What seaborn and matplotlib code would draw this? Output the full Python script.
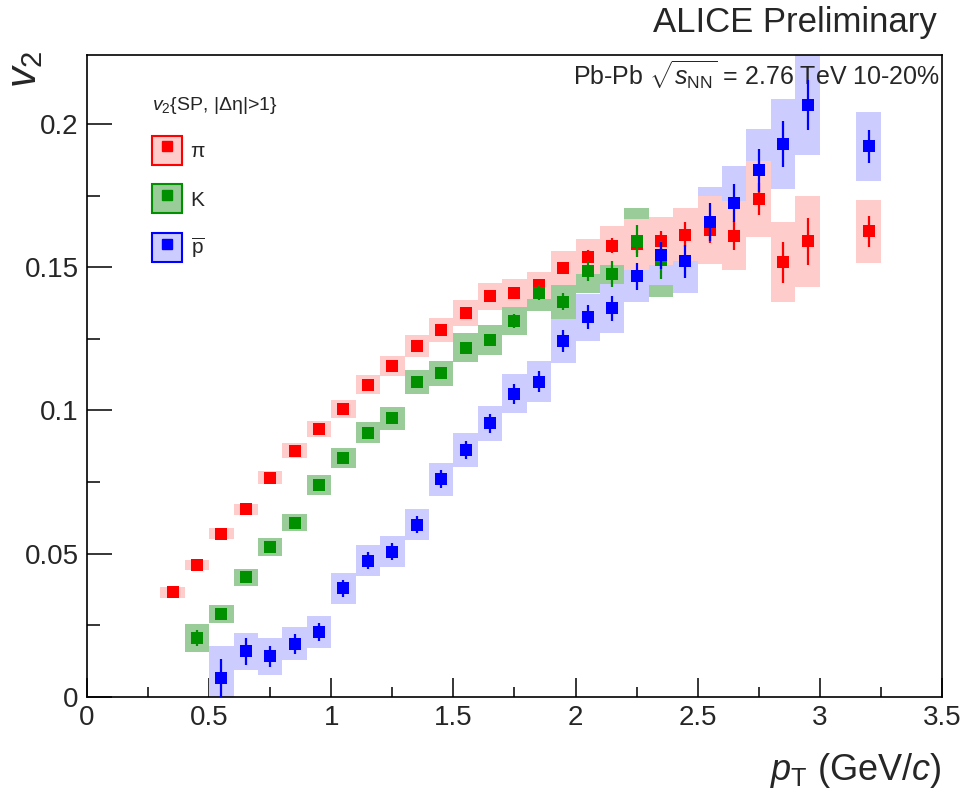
import numpy as np
import pandas as pd
import matplotlib
matplotlib.use('Agg')
import matplotlib.pyplot as plt
import seaborn as sns
from matplotlib.lines import Line2D
from matplotlib.patches import Patch
from matplotlib.legend_handler import HandlerTuple
from matplotlib.ticker import MultipleLocator, FuncFormatter

# ---- data ----
pt_pi = [0.35, 0.45, 0.55, 0.65, 0.75, 0.85, 0.95, 1.05, 1.15, 1.25, 1.35, 1.45, 1.55, 1.65,
         1.75, 1.85, 1.95, 2.05, 2.15, 2.25, 2.35, 2.45, 2.55, 2.65, 2.75, 2.85, 2.95, 3.2]
v2_pi = [0.0365, 0.046, 0.057, 0.0655, 0.0765, 0.086, 0.0935, 0.1005, 0.109, 0.1155, 0.1225, 0.128, 0.134, 0.1398,
         0.141, 0.1437, 0.1497, 0.1537, 0.1575, 0.158, 0.1592, 0.1613, 0.163, 0.161, 0.1738, 0.1517, 0.159, 0.1625]
stat_pi = [0.0008, 0.0008, 0.0008, 0.0009, 0.001, 0.001, 0.0011, 0.0012, 0.0012, 0.0013, 0.0014, 0.0015, 0.0016, 0.0017,
           0.0018, 0.002, 0.0021, 0.0023, 0.0026, 0.003, 0.0034, 0.0044, 0.0045, 0.005, 0.0057, 0.0072, 0.0082, 0.0055]
syst_pi = [0.0019, 0.0017, 0.0019, 0.002, 0.0023, 0.0026, 0.0028, 0.003, 0.0033, 0.0035, 0.0038, 0.0042, 0.0045, 0.0047,
           0.0049, 0.0048, 0.0058, 0.0062, 0.0068, 0.009, 0.0085, 0.0093, 0.0117, 0.012, 0.0133, 0.014, 0.0158, 0.011]

pt_k = [0.45, 0.55, 0.65, 0.75, 0.85, 0.95, 1.05, 1.15, 1.25, 1.35,
        1.45, 1.55, 1.65, 1.75, 1.85, 1.95, 2.05, 2.15, 2.25, 2.35]
v2_k = [0.0205, 0.029, 0.0418, 0.0523, 0.0608, 0.0739, 0.0833, 0.0922, 0.0973, 0.1098,
        0.1129, 0.1219, 0.1245, 0.1312, 0.1411, 0.1379, 0.1487, 0.1476, 0.1592, 0.1525]
stat_k = [0.0028, 0.0012, 0.001, 0.001, 0.001, 0.0011, 0.0012, 0.0013, 0.0014, 0.0015,
          0.0017, 0.0018, 0.002, 0.0024, 0.0027, 0.003, 0.0035, 0.0044, 0.0055, 0.0065]
syst_k = [0.005, 0.0032, 0.003, 0.003, 0.0029, 0.0034, 0.0035, 0.0036, 0.004, 0.0042,
          0.0045, 0.005, 0.0053, 0.005, 0.0064, 0.006, 0.0078, 0.008, 0.0114, 0.013]

pt_p = [0.55, 0.65, 0.75, 0.85, 0.95, 1.05, 1.15, 1.25, 1.35, 1.45, 1.55, 1.65, 1.75,
        1.85, 1.95, 2.05, 2.15, 2.25, 2.35, 2.45, 2.55, 2.65, 2.75, 2.85, 2.95, 3.2]
v2_p = [0.0065, 0.0159, 0.0141, 0.0186, 0.0227, 0.0379, 0.0476, 0.0507, 0.0601, 0.076, 0.0861, 0.0955, 0.1058,
        0.11, 0.1243, 0.1325, 0.1356, 0.1468, 0.1542, 0.152, 0.1657, 0.1724, 0.1838, 0.1931, 0.2066, 0.1922]
stat_p = [0.0067, 0.0047, 0.0038, 0.0035, 0.0032, 0.003, 0.003, 0.003, 0.003, 0.0031, 0.0032, 0.0033, 0.0035,
          0.0037, 0.0039, 0.0042, 0.0044, 0.0048, 0.0047, 0.0057, 0.0067, 0.0067, 0.0075, 0.008, 0.0088, 0.0057]
syst_p = [0.0114, 0.0064, 0.0066, 0.0059, 0.0057, 0.0054, 0.0053, 0.0053, 0.0054, 0.0058, 0.006, 0.006, 0.0068,
          0.0072, 0.0077, 0.0082, 0.0085, 0.009, 0.0105, 0.011, 0.0123, 0.013, 0.0146, 0.0157, 0.0175, 0.012]

labels = ['π', 'K', r'$\overline{\rm p}$']
x_ticks = [0, 0.5, 1, 1.5, 2, 2.5, 3, 3.5]
y_ticks = [0, 0.05, 0.1, 0.15, 0.2]

# ---- style ----
sns.set_style('ticks')
plt.rcParams['font.family'] = ['Liberation Sans', 'DejaVu Sans']
plt.rcParams['mathtext.fontset'] = 'custom'
plt.rcParams['mathtext.rm'] = 'Liberation Sans'
plt.rcParams['mathtext.it'] = 'Liberation Sans:italic'
plt.rcParams['mathtext.bf'] = 'Liberation Sans:bold'

fig, ax = plt.subplots(figsize=(9.68, 8.01), dpi=100)
fig.subplots_adjust(left=0.0899, right=0.973, bottom=0.130, top=0.931)

# (pt, v2, stat, syst, marker colour, box colour, box zorder, marker zorder)
species = [
    (pt_k, v2_k, stat_k, syst_k, '#009000', '#99CC99', 1.0, 3.2),
    (pt_p, v2_p, stat_p, syst_p, '#0000FF', '#CCCCFF', 1.1, 3.4),
    (pt_pi, v2_pi, stat_pi, syst_pi, '#FF0000', '#FFCCCC', 1.2, 3.0),
]

for pt, v2, stat, syst, col, boxcol, zb, zm in species:
    df = pd.DataFrame({'pt': pt, 'v2': v2, 'stat': stat, 'syst': syst})
    # systematic boxes
    ax.bar(df.pt, 2 * df.syst, bottom=df.v2 - df.syst, width=0.1,
           color=boxcol, linewidth=0, zorder=zb)
    # statistical error bars
    ax.errorbar(df.pt, df.v2, yerr=df.stat, fmt='none', ecolor=col,
                elinewidth=1.6, capsize=0, zorder=zm)
    sns.scatterplot(data=df, x='pt', y='v2', marker='s', color=col, s=70,
                    linewidth=0, ax=ax, zorder=zm + 0.05)

ax.set_xlim(0, 3.5)
ax.set_ylim(0, 0.224)
ax.set_xticks(x_ticks)
ax.set_yticks(y_ticks)
ax.xaxis.set_minor_locator(MultipleLocator(0.25))
ax.yaxis.set_minor_locator(MultipleLocator(0.025))
fmt = FuncFormatter(lambda v, p: '%g' % v)
ax.xaxis.set_major_formatter(fmt)
ax.yaxis.set_major_formatter(fmt)
ax.tick_params(axis='both', which='both', direction='in', top=False, right=False,
               labelsize=20, width=1.1, color='black')
ax.tick_params(axis='x', which='major', length=14, pad=6)
ax.tick_params(axis='x', which='minor', length=7)
ax.tick_params(axis='y', which='major', length=18, pad=6)
ax.tick_params(axis='y', which='minor', length=9)
for s in ax.spines.values():
    s.set_linewidth(1.2)
    s.set_color('black')

ax.set_xlabel(r'$p_{\rm T}$ (GeV/$c$)', fontsize=26, loc='right')
ax.xaxis.set_label_coords(1.0, -0.085)
ax.set_ylabel(r'$v_{2}$', fontsize=30, loc='top')
ax.yaxis.set_label_coords(-0.049, 1.008)

fig.text(0.968, 0.972, 'ALICE Preliminary', ha='right', va='center', fontsize=25)
ax.text(0.998, 0.968, r'Pb-Pb $\sqrt{s_{\rm NN}}$ = 2.76 TeV 10-20%', transform=ax.transAxes,
        ha='right', va='center', fontsize=18)

# legend: box + square marker, overlaid
handles = []
for pt, v2, stat, syst, col, boxcol, zb, zm in [species[2], species[0], species[1]]:
    handles.append((Patch(facecolor=boxcol, edgecolor=col, linewidth=1.5),
                    Line2D([], [], marker='s', color=col, linestyle='none', markersize=7.5)))
leg = ax.legend(handles, labels, handler_map={tuple: HandlerTuple(ndivide=1, pad=0)},
                title=r'$v_{2}${SP, |Δη|>1}', title_fontsize=14, fontsize=15,
                loc='upper left', bbox_to_anchor=(0.076, 0.938), frameon=False,
                handlelength=1.45, handleheight=1.75, labelspacing=0.95, handletextpad=0.4,
                alignment='left', borderaxespad=0, borderpad=0)

fig.savefig('out.png', dpi=100)
